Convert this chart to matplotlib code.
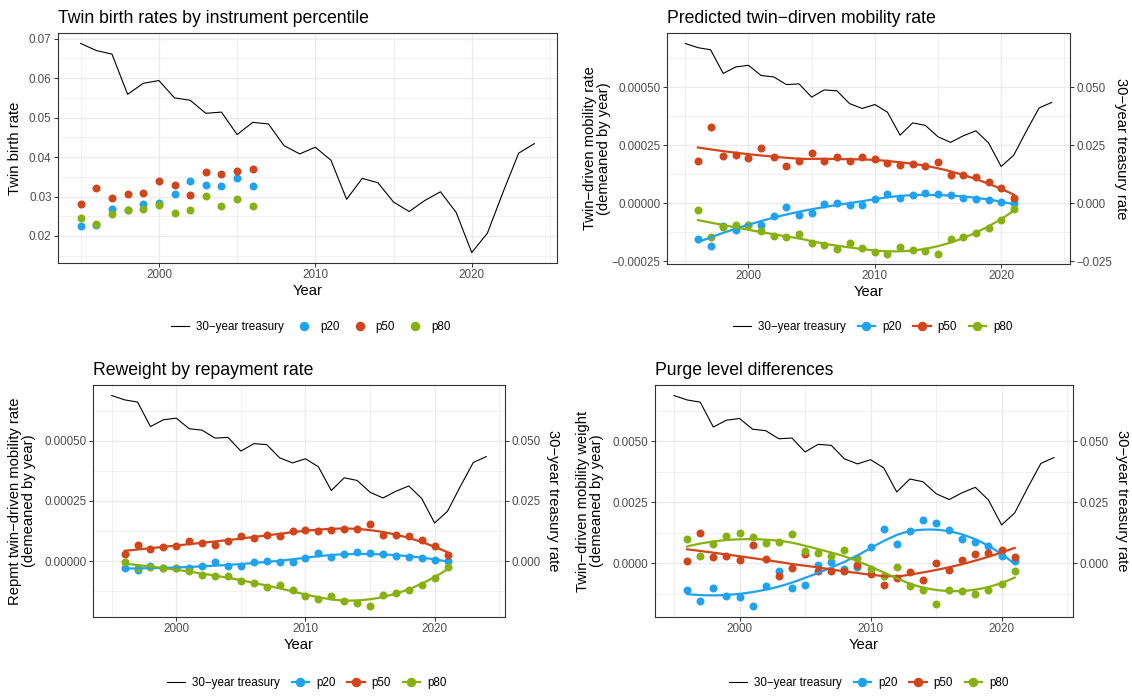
import numpy as np
import matplotlib.pyplot as plt
from matplotlib.lines import Line2D
from matplotlib.ticker import MultipleLocator, FuncFormatter

plt.rcParams['font.family'] = ['Liberation Sans', 'DejaVu Sans']

# 30-year treasury rate, annual
years = np.arange(1995, 2025)
treasury = [0.0688, 0.0670, 0.0661, 0.0559, 0.0587, 0.0594, 0.0550, 0.0544, 0.0511, 0.0514,
            0.0457, 0.0488, 0.0484, 0.0429, 0.0408, 0.0425, 0.0392, 0.0293, 0.0346, 0.0335,
            0.0286, 0.0262, 0.0290, 0.0312, 0.0260, 0.0158, 0.0207, 0.0311, 0.0410, 0.0434]

# twin birth rates by instrument percentile
birth_years = np.arange(1995, 2007)
birth_p20 = [0.0225, 0.0229, 0.0268, 0.0267, 0.0280, 0.0283, 0.0307, 0.0339, 0.0330, 0.0327, 0.0346, 0.0327]
birth_p50 = [0.0282, 0.0322, 0.0297, 0.0306, 0.0309, 0.0339, 0.0328, 0.0305, 0.0362, 0.0356, 0.0364, 0.0371]
birth_p80 = [0.0246, 0.0230, 0.0256, 0.0267, 0.0268, 0.0279, 0.0258, 0.0267, 0.0301, 0.0275, 0.0293, 0.0276]

# predicted twin-driven mobility rate (demeaned by year)
mob_years = np.arange(1996, 2022)
pred_p20 = [-0.000154, -0.000184, -0.000097, -0.000116, -0.000094, -0.000095, -0.000056, -0.000017,
            -0.000050, -0.000043, -0.000004, 0.000000, -0.000010, -0.000007, 0.000020, 0.000041,
            0.000021, 0.000036, 0.000044, 0.000039, 0.000033, 0.000021, 0.000019, 0.000013,
            0.000006, 0.000000]
pred_p50 = [0.000183, 0.000326, 0.000204, 0.000207, 0.000194, 0.000239, 0.000199, 0.000160,
            0.000183, 0.000214, 0.000181, 0.000199, 0.000183, 0.000199, 0.000189, 0.000174,
            0.000166, 0.000170, 0.000161, 0.000177, 0.000123, 0.000121, 0.000111, 0.000090,
            0.000067, 0.000024]
pred_p80 = [-0.000031, -0.000144, -0.000104, -0.000094, -0.000094, -0.000120, -0.000143, -0.000146,
            -0.000133, -0.000170, -0.000179, -0.000199, -0.000173, -0.000193, -0.000210, -0.000217,
            -0.000187, -0.000204, -0.000206, -0.000217, -0.000154, -0.000144, -0.000129, -0.000106,
            -0.000071, -0.000026]

# reweighted by repayment rate
rep_p20 = [-0.000028, -0.000039, -0.000021, -0.000031, -0.000029, -0.000030, -0.000022, -0.000004,
           -0.000022, -0.000021, -0.000003, 0.000001, -0.000004, -0.000003, 0.000014, 0.000032,
           0.000017, 0.000028, 0.000038, 0.000033, 0.000028, 0.000021, 0.000018, 0.000011,
           0.000006, 0.000001]
rep_p50 = [0.000031, 0.000065, 0.000049, 0.000057, 0.000061, 0.000083, 0.000076, 0.000067,
           0.000083, 0.000106, 0.000094, 0.000108, 0.000106, 0.000126, 0.000129, 0.000126,
           0.000128, 0.000135, 0.000133, 0.000154, 0.000108, 0.000110, 0.000103, 0.000086,
           0.000063, 0.000024]
rep_p80 = [-0.000003, -0.000028, -0.000025, -0.000028, -0.000031, -0.000043, -0.000057, -0.000061,
           -0.000063, -0.000082, -0.000093, -0.000108, -0.000101, -0.000121, -0.000144, -0.000158,
           -0.000144, -0.000165, -0.000174, -0.000189, -0.000140, -0.000133, -0.000119, -0.000100,
           -0.000071, -0.000024]

# purge level differences
purge_p20 = [-0.00108, -0.00154, -0.00102, -0.00135, -0.00138, -0.00176, -0.00094, -0.00030,
             -0.00101, -0.00089, -0.00007, 0.00005, -0.00022, -0.00014, 0.00067, 0.00142,
             0.00081, 0.00134, 0.00179, 0.00164, 0.00139, 0.00100, 0.00086, 0.00070,
             0.00030, 0.00010]
purge_p50 = [0.00010, 0.00126, 0.00026, 0.00029, 0.00016, 0.00075, 0.00018, -0.00052,
             -0.00018, 0.00040, -0.00031, -0.00030, -0.00029, -0.00005, -0.00042, -0.00089,
             -0.00061, -0.00036, -0.00067, 0.00004, -0.00026, 0.00015, 0.00037, 0.00045,
             0.00056, 0.00027]
purge_p80 = [0.00101, 0.00029, 0.00081, 0.00112, 0.00126, 0.00107, 0.00082, 0.00086,
             0.00122, 0.00051, 0.00045, 0.00031, 0.00056, 0.00023, -0.00023, -0.00051,
             -0.00015, -0.00093, -0.00108, -0.00165, -0.00108, -0.00111, -0.00123, -0.00108,
             -0.00085, -0.00031]

BLUE = '#1FA2EF'
RED = '#D2441A'
GREEN = '#86B111'
COLORS = [BLUE, RED, GREEN]
LABELS = ['p20', 'p50', 'p80']
MINUS = '\u2212'

W, H = 1132, 696


def loess(x, y, span=0.75, n_out=80):
    # local quadratic regression with tricube weights
    x = np.asarray(x, float)
    y = np.asarray(y, float)
    q = int(np.floor(span * len(x)))
    grid = np.linspace(x.min(), x.max(), n_out)
    fit = []
    for x0 in grid:
        d = np.abs(x - x0)
        h = np.sort(d)[q - 1]
        w = np.clip(1 - (d / h) ** 3, 0, None) ** 3
        X = np.column_stack([np.ones_like(x), x - x0, (x - x0) ** 2])
        sw = np.sqrt(w)
        beta = np.linalg.lstsq(X * sw[:, None], y * sw, rcond=None)[0]
        fit.append(beta[0])
    return grid, np.array(fit)


def make_axes(box):
    x0, y0, x1, y1 = box
    return fig.add_axes([x0 / W, 1 - y1 / H, (x1 - x0) / W, (y1 - y0) / H])


def fmt(decimals):
    def f(v, _):
        if abs(v) < 1e-12:
            v = 0.0
        return f'{v:.{decimals}f}'.replace('-', MINUS)
    return FuncFormatter(f)


def style(ax, box, step, decimals, lo, hi):
    ax.set_xlim(1993.55, 2025.45)
    ax.set_ylim(lo, hi)
    ax.xaxis.set_major_locator(MultipleLocator(10))
    ax.xaxis.set_minor_locator(MultipleLocator(5))
    ax.yaxis.set_major_locator(MultipleLocator(step))
    ax.yaxis.set_minor_locator(MultipleLocator(step / 2))
    ax.yaxis.set_major_formatter(fmt(decimals))
    ax.set_axisbelow(True)
    ax.grid(which='major', color='#EBEBEB', lw=1.0)
    ax.grid(which='minor', color='#EBEBEB', lw=0.5)
    ax.tick_params(which='major', length=2.6, width=0.7, color='#333333',
                   labelcolor='#4D4D4D', labelsize=8.4, pad=2)
    ax.tick_params(which='minor', length=0)
    for s in ax.spines.values():
        s.set_color('#333333')
        s.set_linewidth(0.8)
    x0, y0, x1, y1 = box
    ax.set_xlabel('Year', fontsize=10.6, va='center')
    ax.xaxis.set_label_coords(0.5, (y1 - (y1 + 28)) / (y1 - y0))


def ylabel_at(axis, text, box, px, rotation=90):
    x0, y0, x1, y1 = box
    axis.set_label_text(text, fontsize=10.6, va='center', ha='center',
                        rotation=rotation, linespacing=1.0)
    axis.set_label_coords((px - x0) / (x1 - x0), 0.5)


def limits(values):
    lo, hi = min(values), max(values)
    pad = (hi - lo) * 0.05
    return lo - pad, hi + pad


def add_legend(cx, cy, with_lines):
    handles = [Line2D([], [], color='black', lw=0.8)]
    for c in COLORS:
        if with_lines:
            handles.append(Line2D([], [], color=c, lw=1.6, marker='o', ms=5.8))
        else:
            handles.append(Line2D([], [], ls='none', color=c, marker='o', ms=5.8))
    fig.legend(handles, ['30' + MINUS + 'year treasury'] + LABELS, loc='center',
               bbox_to_anchor=(cx / W, 1 - cy / H), ncol=4, frameon=False,
               fontsize=8.4, handlelength=1.5, handletextpad=0.6, columnspacing=1.0)


fig = plt.figure(figsize=(W / 100, H / 100), dpi=100)

# panel 1: raw twin birth rates with treasury rate on the same scale
box1 = (58, 33, 557, 263)
ax1 = make_axes(box1)
ax1.plot(years, treasury, color='black', lw=0.8)
for vals, c in zip([birth_p20, birth_p50, birth_p80], COLORS):
    ax1.scatter(birth_years, vals, s=33, color=c, linewidths=0, zorder=3)
lo, hi = limits(treasury + birth_p20 + birth_p50 + birth_p80)
style(ax1, box1, 0.01, 2, lo, hi)
ylabel_at(ax1.yaxis, 'Twin birth rate', box1, 15)
ax1.set_title('Twin birth rates by instrument percentile', loc='left', fontsize=12.7, pad=7)
add_legend(311, 327, False)

# panels 2-4: demeaned series with treasury rate on a secondary axis
panels = [
    ((667, 33, 1070, 264), 'Predicted twin' + MINUS + 'dirven mobility rate',
     'Twin' + MINUS + 'driven mobility rate\n(demeaned by year)', 597, 1121,
     [pred_p20, pred_p50, pred_p80], 100, 0.00025, 5, (873, 327)),
    ((93, 385, 505, 617), 'Reweight by repayment rate',
     'Repmt twin' + MINUS + 'driven mobility rate\n(demeaned by year)', 22, 553,
     [rep_p20, rep_p50, rep_p80], 100, 0.00025, 5, (307, 683)),
    ((655, 385, 1073, 617), 'Purge level differences',
     'Twin' + MINUS + 'driven mobility weight\n(demeaned by year)', 590, 1122,
     [purge_p20, purge_p50, purge_p80], 10, 0.0025, 4, (869, 683)),
]

for box, title, ylab, ylab_x, rlab_x, series, k, step, dec, leg in panels:
    ax = make_axes(box)
    scaled = [t / k for t in treasury]
    ax.plot(years, scaled, color='black', lw=0.8)
    allvals = list(scaled)
    for vals, c in zip(series, COLORS):
        ax.scatter(mob_years, vals, s=33, color=c, linewidths=0, zorder=3)
        gx, gy = loess(mob_years, vals)
        ax.plot(gx, gy, color=c, lw=1.6, zorder=4)
        allvals += list(vals) + list(gy)
    lo, hi = limits(allvals)
    style(ax, box, step, dec, lo, hi)
    ylabel_at(ax.yaxis, ylab, box, ylab_x)
    ax.set_title(title, loc='left', fontsize=12.7, pad=7)

    axr = ax.twinx()
    axr.set_ylim(lo * k, hi * k)
    axr.yaxis.set_major_locator(MultipleLocator(step * k))
    axr.yaxis.set_major_formatter(fmt(3))
    axr.tick_params(length=2.6, width=0.7, color='#333333', labelcolor='#4D4D4D',
                    labelsize=8.4, pad=2)
    for s in axr.spines.values():
        s.set_visible(False)
    ylabel_at(axr.yaxis, '30' + MINUS + 'year treasury rate', box, rlab_x, rotation=270)
    add_legend(leg[0], leg[1], True)

fig.savefig('out.png', dpi=100)
